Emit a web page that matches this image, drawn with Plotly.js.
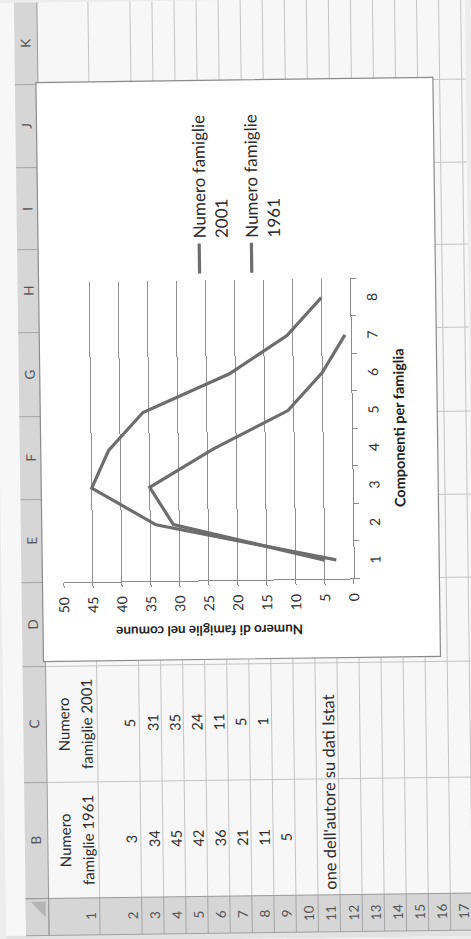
<!DOCTYPE html>
<html>
<head>
<meta charset="utf-8">
<script src="https://cdn.plot.ly/plotly-3.0.1.min.js"></script>
<style>
  html, body { margin: 0; padding: 0; width: 471px; height: 939px; overflow: hidden; background: #ececec; }
  #page { position: absolute; left: 0; top: 0; width: 471px; height: 939px; transform: rotate(-0.75deg); transform-origin: 50% 50%; }
  #sheet { position: absolute; left: 0; top: 0; width: 939px; height: 471px; }
</style>
</head>
<body>
<div id="page"><div id="sheet"></div></div>
<script>
// ---- data ----
const components = [1, 2, 3, 4, 5, 6, 7, 8];
const famiglie1961 = [3, 34, 45, 42, 36, 21, 11, 5];
const famiglie2001 = [5, 31, 35, 24, 11, 5, 1];
const headerB = ['Numero', 'famiglie 1961'];
const headerC = ['Numero', 'famiglie 2001'];
const legendName1961 = 'Numero famiglie<br>1961';
const legendName2001 = 'Numero famiglie<br>2001';
const columnLetters = ['B', 'C', 'D', 'E', 'F', 'G', 'H', 'I', 'J', 'K'];
const rowNumbers = [1, 2, 3, 4, 5, 6, 7, 8, 9, 10, 11, 12, 13, 14, 15, 16, 17];
const sourceNote = "one dell'autore su dati Istat";
const xTitle = 'Componenti per famiglia';
const yTitle = 'Numero di famiglie nel comune';

// ---- sheet geometry (pixels, worksheet drawn landscape then turned) ----
const W = 939, H = 471;
const fx = u => u / W;
const fy = v => 1 - v / H;
const colEdges = [43, 159, 275, 359, 442, 525, 609, 692, 774, 857, 940];
const rowEdges = [43, 94, 136];
for (let k = 1; k <= 15; k++) rowEdges.push(136 + 22.05 * k);
const FONT = 'Lato, "Liberation Sans", sans-serif';

const shapes = [];
function rect(u0, v0, u1, v1, fill, line) {
  shapes.push({ type: 'rect', xref: 'paper', yref: 'paper', layer: 'below',
    x0: fx(u0), x1: fx(u1), y0: fy(v1), y1: fy(v0),
    fillcolor: fill, line: line || { width: 0 } });
}
function seg(u0, v0, u1, v1, color, width) {
  shapes.push({ type: 'line', xref: 'paper', yref: 'paper', layer: 'below',
    x0: fx(u0), x1: fx(u1), y0: fy(v0), y1: fy(v1),
    line: { color: color, width: width || 1 } });
}

// bottom edge and header bands
rect(0, 0, 6, H, '#e2e2e2');
rect(6, 20, 941, 43, '#d6d6d6');
rect(6, 20, 43, H, '#d6d6d6');
// cell grid
for (let i = 1; i < rowEdges.length; i++) seg(43, rowEdges[i], 941, rowEdges[i], '#c4c4c4', 1);
for (let i = 1; i < colEdges.length - 1; i++) seg(colEdges[i], 43, colEdges[i], H, '#c4c4c4', 1);
// header separators
for (let i = 0; i < colEdges.length; i++) seg(colEdges[i], 20, colEdges[i], 43, '#a6a6a6', 1);
for (let i = 0; i < rowEdges.length; i++) seg(6, rowEdges[i], 43, rowEdges[i], '#a6a6a6', 1);
seg(6, 43, 941, 43, '#9a9a9a', 1);
seg(43, 20, 43, H, '#9a9a9a', 1);
seg(6, 20, 6, H, '#a0a0a0', 1);
// select-all corner triangle
shapes.push({ type: 'path', xref: 'paper', yref: 'paper', layer: 'below',
  path: `M ${fx(40)} ${fy(40)} L ${fx(40)} ${fy(25)} L ${fx(24)} ${fy(40)} Z`,
  fillcolor: '#b5b5b5', line: { width: 0 } });
// chart area
rect(280, 41, 859, 438, '#ffffff', { color: '#8a8a8a', width: 1.2 });

// ---- sheet texts ----
const annotations = [];
function txt(u, v, text, size, opts) {
  annotations.push(Object.assign({ xref: 'paper', yref: 'paper', x: fx(u), y: fy(v),
    text: text, showarrow: false, xanchor: 'center', yanchor: 'middle',
    font: { family: FONT, size: size, color: '#2b2b2b' } }, opts || {}));
}
const headFont = { family: FONT, size: 13.5, color: '#555' };
columnLetters.forEach((c, i) => {
  txt((colEdges[i] + colEdges[i + 1]) / 2, 31.5, c, 13.5, { font: headFont });
});
rowNumbers.forEach((r, i) => {
  txt(24.5, rowEdges[i + 1] - 9, String(r), 13.5, { font: headFont });
});
const colB = (colEdges[0] + colEdges[1]) / 2;
const colC = (colEdges[1] + colEdges[2]) / 2;
txt(colB, 60, headerB[0], 15); txt(colB, 83, headerB[1], 15);
txt(colC, 60, headerC[0], 15); txt(colC, 83, headerC[1], 15);
famiglie1961.forEach((val, i) => txt(colB, rowEdges[i + 2] - 9, String(val), 14.5));
famiglie2001.forEach((val, i) => txt(colC, rowEdges[i + 2] - 9, String(val), 14.5));
txt(46, rowEdges[11] - 9, sourceNote, 16.5, { xanchor: 'left' });

// ---- chart ----
const lineStyle = { color: '#6d6d6d', width: 3.2 };
const traces = [
  { x: components.slice(0, famiglie2001.length), y: famiglie2001, name: legendName2001,
    legendgroup: 'g2001', mode: 'lines', line: lineStyle, hoverinfo: 'skip' },
  { x: components, y: famiglie1961, name: legendName1961,
    legendgroup: 'g1961', mode: 'lines', line: lineStyle, hoverinfo: 'skip' }
];

const layout = {
  width: W, height: H,
  margin: { l: 0, r: 0, t: 0, b: 0 },
  paper_bgcolor: '#f7f7f7',
  plot_bgcolor: 'rgba(0,0,0,0)',
  font: { family: FONT, color: '#2b2b2b' },
  showlegend: true,
  legend: { x: fx(661), xanchor: 'left', y: fy(184.6), yanchor: 'top', valign: 'top',
    font: { family: FONT, size: 17, color: '#2b2b2b' }, bgcolor: 'rgba(0,0,0,0)',
    borderwidth: 0, tracegroupgap: 5, traceorder: 'grouped' },
  xaxis: {
    domain: [fx(359), fx(659)], range: [0.5, 8.5],
    tickmode: 'array', tickvals: components, ticktext: components.map(String),
    ticks: '', showline: true, linecolor: '#8a8a8a', linewidth: 1,
    showgrid: false, zeroline: false,
    tickfont: { family: FONT, size: 14, color: '#333' }, ticklabelstandoff: 9,
    minor: { tickmode: 'linear', tick0: 0.5, dtick: 1, ticks: 'outside', ticklen: 5, tickcolor: '#8a8a8a', showgrid: false },
    title: { text: xTitle, font: { family: FONT, size: 14.5, color: '#222', weight: 'bold' }, standoff: 13 },
    fixedrange: true
  },
  yaxis: {
    domain: [fy(352.5), fy(62.5)], range: [0, 50],
    tickmode: 'linear', tick0: 0, dtick: 5,
    ticks: 'outside', ticklen: 5, tickcolor: '#8a8a8a',
    showgrid: true, gridcolor: '#8f8f8f', gridwidth: 1,
    showline: true, linecolor: '#8a8a8a', linewidth: 1, zeroline: false,
    tickfont: { family: FONT, size: 14, color: '#333' }, ticklabelstandoff: 6,
    title: { text: yTitle, font: { family: FONT, size: 13.5, color: '#222', weight: 'bold' }, standoff: 10 },
    fixedrange: true
  },
  shapes: shapes,
  annotations: annotations
};

Plotly.newPlot('sheet', traces, layout, { staticPlot: true, displayModeBar: false }).then(() => {
  const el = document.getElementById('sheet');
  el.style.transformOrigin = '0 0';
  el.style.transform = 'translate(0px, 939px) rotate(-90deg)';
});
</script>
</body>
</html>
